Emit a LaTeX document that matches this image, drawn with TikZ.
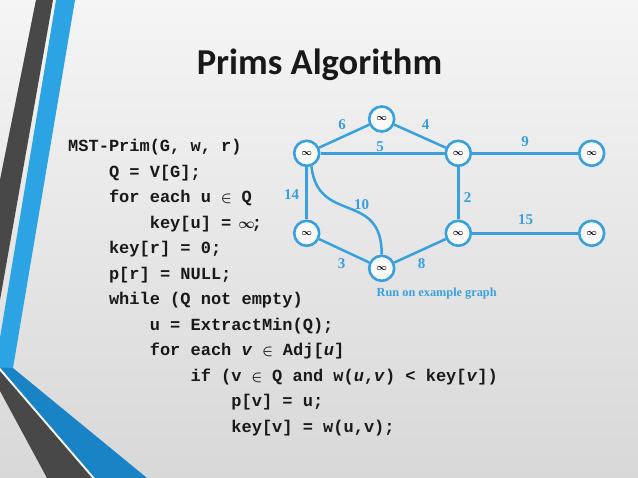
\documentclass[tikz,border=0pt]{standalone}
\usepackage{fontspec}
\usepackage{amsmath}
\setmainfont{Liberation Serif}
\setmonofont{Liberation Mono}
\newfontfamily\titlefont{Carlito}
\definecolor{bgtop}{RGB}{245,245,245}
\definecolor{bgbot}{RGB}{216,216,216}
\definecolor{gblue}{RGB}{56,160,220}
\definecolor{sblue}{RGB}{44,164,228}
\definecolor{dblue}{RGB}{24,132,198}
\definecolor{sgray}{RGB}{72,72,72}
\definecolor{codec}{RGB}{25,25,25}
\newcommand{\elemsym}{\makebox[0.6em]{\fontsize{14}{14}\selectfont$\boldsymbol{\in}$}}
\newcommand{\infsym}{\makebox[0.6em]{\fontsize{15}{15}\selectfont$\boldsymbol{\infty}$}}
\begin{document}
\begin{tikzpicture}[x=1pt,y=-1pt,
  vert/.style={circle, draw=gblue, line width=2.6pt, fill=white!96!gray, minimum size=25pt, inner sep=0pt,
    font=\fontsize{9}{9}\selectfont, text=black},
  edgeline/.style={draw=gblue, line width=2.5pt},
  wlabel/.style={font=\bfseries\fontsize{15}{15}\selectfont, text=gblue, inner sep=0pt},
  codeline/.style={anchor=base west, inner sep=0pt, text=codec,
    font=\ttfamily\bfseries\fontsize{17}{17}\selectfont},
]
\useasboundingbox (0,0) rectangle (638,478);
\shade[top color=bgtop, bottom color=bgbot] (0,0) rectangle (638,478);
% decorative stripes
\fill[sgray] (36,0) -- (53,0) -- (0,300) -- (0,180) -- cycle;
\fill[sblue] (56,0) -- (75,0) -- (13,368) -- (-5,368) -- cycle;
\fill[dblue] (0,367.5) -- (13,368) -- (147,478) -- (95,478) -- cycle;
\fill[sgray] (0,371) -- (92,478) -- (47,478) -- (0,391) -- cycle;
\draw[white, line width=1.2pt] (0,369.5) -- (93.5,478);
% title
\node[anchor=base, inner sep=0pt, font=\titlefont\bfseries\fontsize{36.5}{36.5}\selectfont, text=black!90] (title) at (319.5,75) {Prims Algorithm};
% code
\node[codeline] (c1) at (68,152) {MST-Prim(G, w, r)};
\node[codeline] (c2) at (108.8,177.5) {Q = V[G];};
\node[codeline] (c3) at (108.8,203) {for each u \elemsym{} Q};
\node[codeline] (c4) at (149.6,228.5) {key[u] = \infsym;};
\node[codeline] (c5) at (108.8,254) {key[r] = 0;};
\node[codeline] (c6) at (108.8,279.5) {p[r] = NULL;};
\node[codeline] (c7) at (108.8,305) {while (Q not empty)};
\node[codeline] (c8) at (149.6,330.5) {u = ExtractMin(Q);};
\node[codeline] (c9) at (149.6,356) {for each \textit{v} \elemsym{} Adj[\textit{u}]};
\node[codeline] (c10) at (190.4,381.5) {if (v \elemsym{} Q and w(\textit{u},\textit{v}) < key[\textit{v}])};
\node[codeline] (c11) at (231.2,407) {p[v] = u;};
\node[codeline] (c12) at (231.2,432.5) {key[v] = w(u,v);};
% graph
\node[vert] (A) at (306.7,153.3) {$\boldsymbol{\infty}$};
\node[vert] (T) at (381.7,119) {$\boldsymbol{\infty}$};
\node[vert] (B) at (458.3,153.3) {$\boldsymbol{\infty}$};
\node[vert] (R1) at (591.7,153.3) {$\boldsymbol{\infty}$};
\node[vert] (C) at (306.7,233.3) {$\boldsymbol{\infty}$};
\node[vert] (D) at (381.7,268.3) {$\boldsymbol{\infty}$};
\node[vert] (E) at (458.3,233.3) {$\boldsymbol{\infty}$};
\node[vert] (R2) at (591.7,233.3) {$\boldsymbol{\infty}$};
\draw[edgeline] (A) -- (T);
\draw[edgeline] (T) -- (B);
\draw[edgeline] (A) -- (B);
\draw[edgeline] (B) -- (R1);
\draw[edgeline] (A) -- (C);
\draw[edgeline] (B) -- (E);
\draw[edgeline] (E) -- (R2);
\draw[edgeline] (C) -- (D);
\draw[edgeline] (D) -- (E);
\draw[edgeline] (A.-70) .. controls (318,225) and (382,190) .. (D.north);
\node[wlabel] (w6) at (342,125) {6};
\node[wlabel] (w4) at (425.7,125) {4};
\node[wlabel] (w5) at (380,146.7) {5};
\node[wlabel] (w9) at (525,141.7) {9};
\node[wlabel] (w14) at (291.7,195) {14};
\node[wlabel] (w10) at (361.7,205) {10};
\node[wlabel] (w2) at (467.7,197.3) {2};
\node[wlabel] (w15) at (525.7,220) {15};
\node[wlabel] (w3) at (341.7,263.3) {3};
\node[wlabel] (w8) at (421.7,263.3) {8};
\node[inner sep=0pt, font=\bfseries\fontsize{12.3}{12.3}\selectfont, text=gblue] (cap) at (436.7,294) {Run on example graph};
\end{tikzpicture}
\end{document}
